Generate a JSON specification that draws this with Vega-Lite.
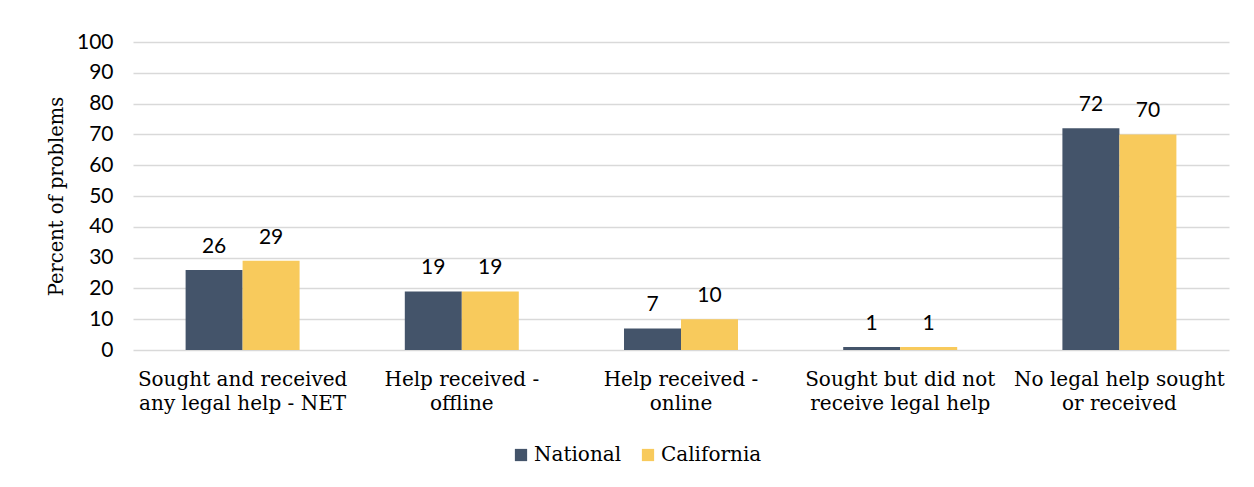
{
  "$schema": "https://vega.github.io/schema/vega-lite/v6.json",
  "autosize": "none",
  "width": 1096,
  "height": 308,
  "padding": {"left": 133, "top": 42, "right": 25, "bottom": 137},
  "background": "white",
  "data": {
    "values": [
      {"category": "Sought and received|any legal help - NET", "series": "National", "value": 26},
      {"category": "Sought and received|any legal help - NET", "series": "California", "value": 29},
      {"category": "Help received -|offline", "series": "National", "value": 19},
      {"category": "Help received -|offline", "series": "California", "value": 19},
      {"category": "Help received -|online", "series": "National", "value": 7},
      {"category": "Help received -|online", "series": "California", "value": 10},
      {"category": "Sought but did not|receive legal help", "series": "National", "value": 1},
      {"category": "Sought but did not|receive legal help", "series": "California", "value": 1},
      {"category": "No legal help sought|or received", "series": "National", "value": 72},
      {"category": "No legal help sought|or received", "series": "California", "value": 70}
    ]
  },
  "encoding": {
    "x": {
      "field": "category",
      "type": "nominal",
      "sort": null,
      "scale": {"paddingInner": 0.48, "paddingOuter": 0.24},
      "axis": {
        "title": null,
        "labelAngle": 0,
        "labelExpr": "split(datum.label, '|')",
        "labelFont": "DejaVu Serif",
        "labelFontSize": 20,
        "labelColor": "#000000",
        "labelLineHeight": 24,
        "labelPadding": 19,
        "labelLimit": 300,
        "ticks": false,
        "domain": false,
        "grid": false
      }
    },
    "xOffset": {"field": "series", "type": "nominal", "sort": ["National", "California"]},
    "y": {
      "field": "value",
      "type": "quantitative",
      "scale": {"domain": [0, 100]},
      "axis": {
        "title": "Percent of problems",
        "titleFont": "DejaVu Serif",
        "titleFontSize": 19.5,
        "titleFontWeight": "normal",
        "titleColor": "#000000",
        "titlePadding": 10,
        "values": [0, 10, 20, 30, 40, 50, 60, 70, 80, 90, 100],
        "labelFont": "Lato",
        "labelFontSize": 21,
        "labelColor": "#000000",
        "labelPadding": 20,
        "ticks": false,
        "domain": false,
        "grid": true,
        "gridColor": "#d9d9d9",
        "gridWidth": 1.5
      }
    }
  },
  "layer": [
    {
      "mark": {"type": "bar"},
      "encoding": {
        "color": {
          "field": "series",
          "type": "nominal",
          "sort": ["National", "California"],
          "scale": {"domain": ["National", "California"], "range": ["#44546A", "#F8CA5C"]},
          "legend": {
            "title": null,
            "orient": "none",
            "direction": "horizontal",
            "legendX": 378,
            "legendY": 403,
            "symbolType": "square",
            "symbolSize": 150,
            "symbolStrokeWidth": 0,
            "labelFont": "DejaVu Serif",
            "labelFontSize": 20,
            "labelColor": "#000000",
            "labelOffset": 3,
            "columnPadding": 16
          }
        }
      }
    },
    {
      "mark": {"type": "text", "baseline": "bottom", "dy": -13, "font": "Lato", "fontSize": 21, "color": "#000000"},
      "encoding": {
        "text": {"field": "value", "type": "quantitative"}
      }
    }
  ],
  "config": {
    "view": {"stroke": null}
  }
}
